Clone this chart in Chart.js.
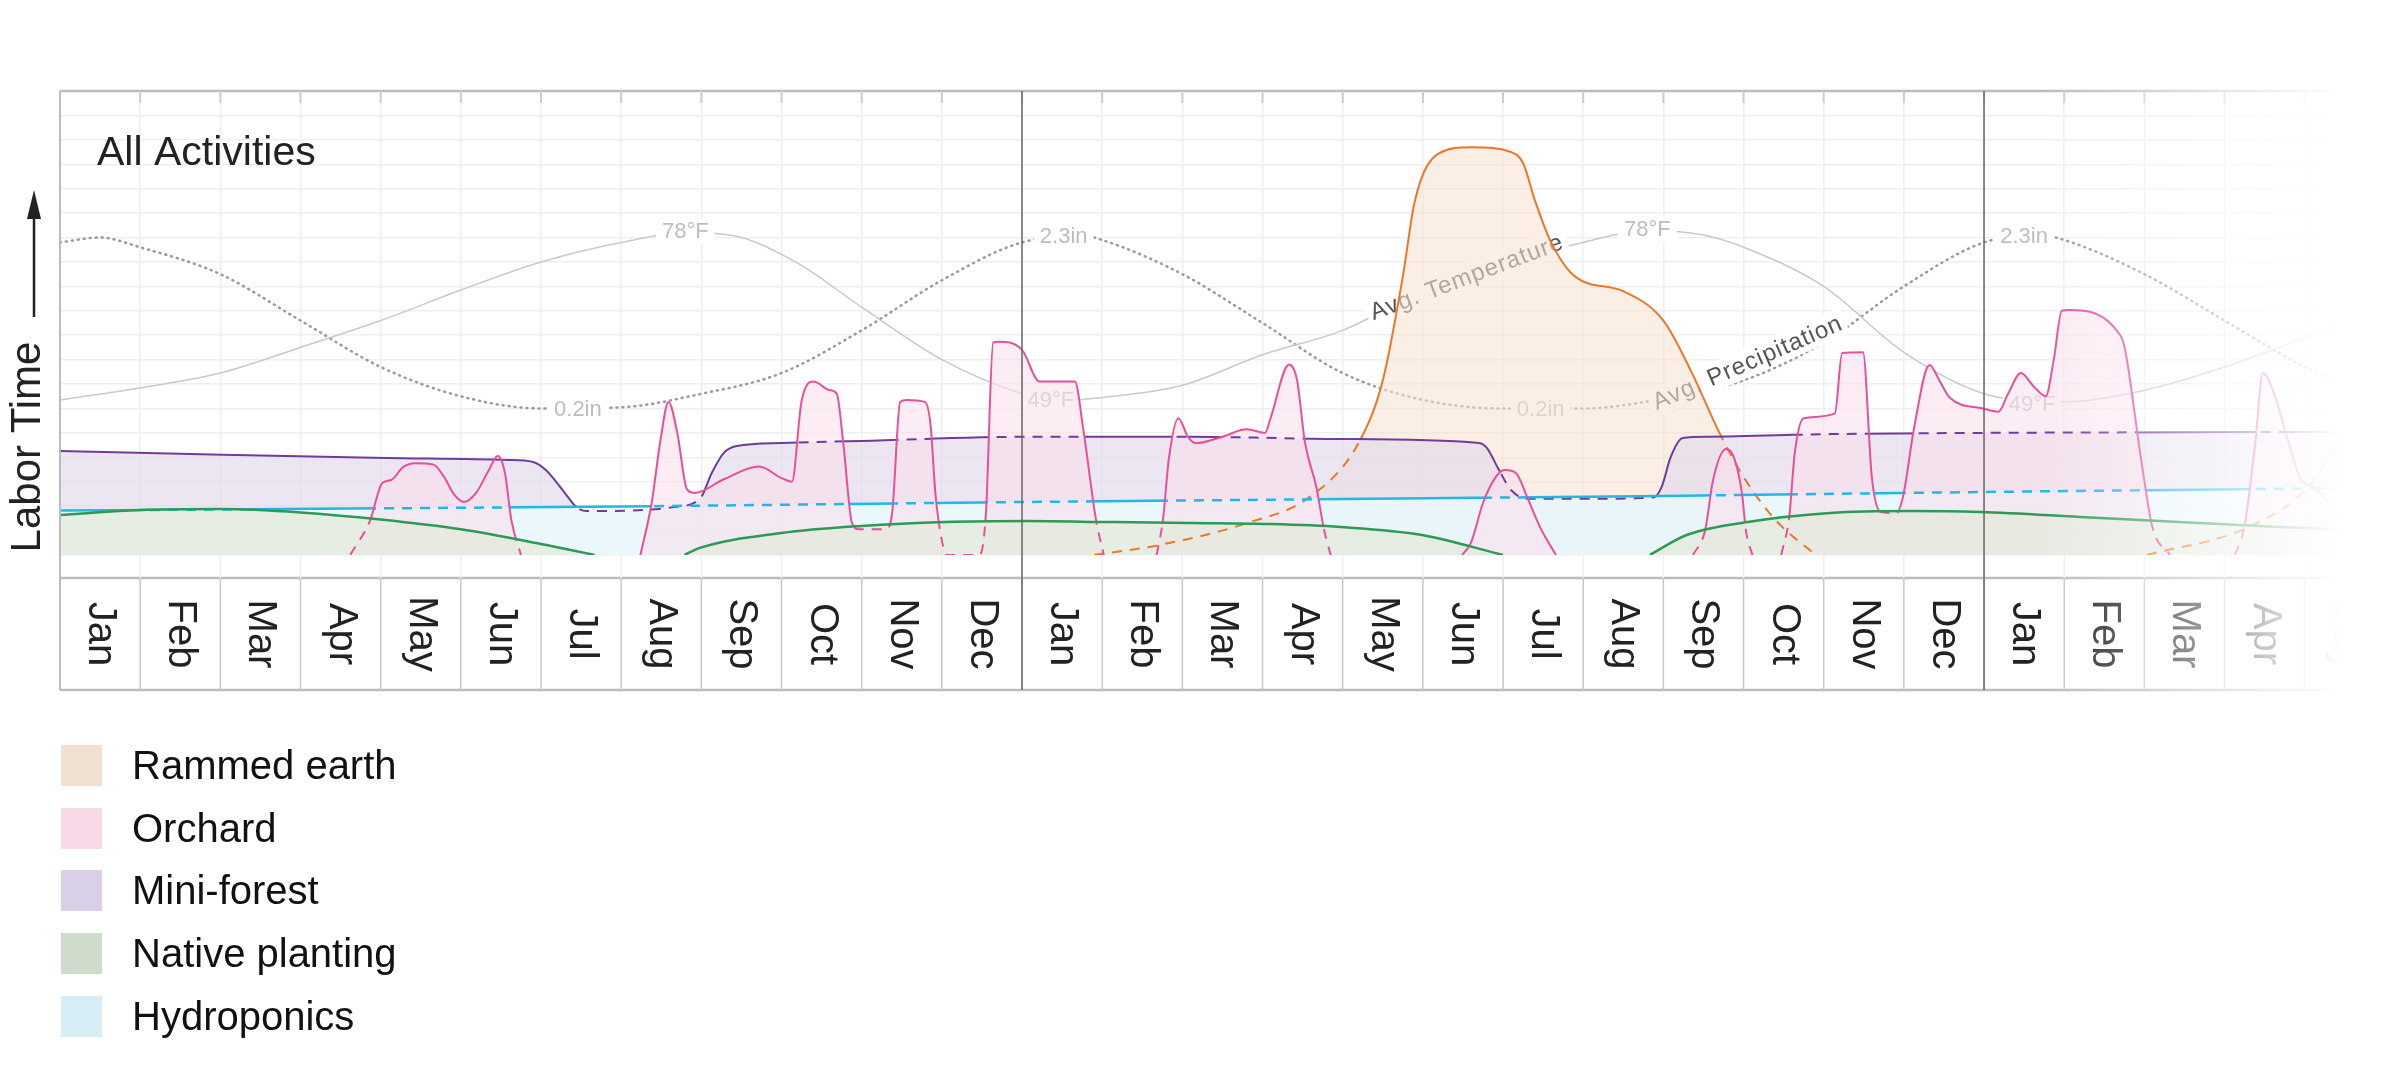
<!DOCTYPE html>
<html>
<head>
<meta charset="utf-8">
<title>All Activities</title>
<script src="https://cdn.jsdelivr.net/npm/chart.js@4.4.1/dist/chart.umd.min.js"></script>
<style>
  html, body { margin: 0; padding: 0; background: #fff; }
  #wrap { position: relative; width: 2400px; height: 1078px; overflow: hidden; }
  #chart { position: absolute; left: 0; top: 0; }
  #legend { position: absolute; left: 61px; top: 745px; font-family: "Liberation Sans", Arial, sans-serif; font-size: 40px; color: #111; }
  .row { display: flex; align-items: center; height: 41px; margin-bottom: 21.7px; }
  .sw { width: 41px; height: 41px; margin-right: 30px; }
</style>
</head>
<body>
<div id="wrap">
  <canvas id="chart" width="2400" height="1078"></canvas>
  <div id="legend"></div>
</div>
<script>
// months along the bottom (0 = start of the first January)
const monthNames = ['Jan', 'Feb', 'Mar', 'Apr', 'May', 'Jun', 'Jul', 'Aug', 'Sep', 'Oct', 'Nov', 'Dec'];
const monthCount = 29;
const xMax = 28.565;
const yearStarts = [12, 24];

// [month, labour time] pairs, null = no activity
const rammedEarth = [[12.9,0],[13.7,0.4],[14.8,1.3],[15.6,2.4],[16.2,4.6],[16.5,7.15],[16.75,11.4],[16.9,14.5],[17.2,16.45],[17.6,16.7],[18.1,16.5],[18.25,16.05],[18.4,14.5],[18.6,12.8],[18.9,11.4],[19.5,10.8],[20.0,9.6],[20.35,7.5],[20.7,5.0],[21.0,3.2],[21.4,1.43],[21.9,0],[24,null],[26.03,0],[27.3,1.15],[28.07,2.9],[28.56,5.6]];

const orchard = [
  [3.62,0],[3.87,1.43],[4.02,2.95],[4.13,3.07],[4.28,3.6],[4.43,3.76],[4.66,3.7],[4.79,3.2],[4.92,2.46],[5.04,2.17],[5.19,2.54],[5.35,3.48],[5.46,4.05],[5.55,3.36],[5.63,1.43],[5.75,0],
  [6.5,null],
  [7.24,0],[7.38,2.13],[7.49,4.7],[7.59,6.27],[7.7,5.0],[7.82,2.7],[7.92,2.54],[8.28,3.1],[8.72,3.62],[9.0,3.15],[9.13,3.0],[9.25,6.3],[9.4,7.1],[9.6,6.75],[9.69,6.6],[9.77,4.6],[9.88,1.3],[9.97,1.05],[10.3,1.05],[10.38,1.72],[10.48,6.27],[10.56,6.35],[10.79,6.27],[10.86,5.3],[10.92,2.5],[11.0,0.6],[11.06,0],[11.47,0],[11.55,1.72],[11.64,8.7],[11.71,8.73],[12.0,8.4],[12.22,7.1],[12.66,7.1],[12.76,5.25],[12.92,1.5],[13.02,0],
  [13.3,null],
  [13.68,0],[13.76,1.5],[13.83,3.9],[13.95,5.6],[14.07,4.84],[14.17,4.58],[14.5,4.84],[14.8,5.15],[15.03,5.0],[15.1,5.6],[15.33,7.8],[15.43,7.17],[15.53,4.6],[15.67,2.8],[15.77,1.0],[15.85,0],
  [16.5,null],
  [17.49,0],[17.6,0.5],[17.75,2.13],[17.9,3.15],[18.02,3.48],[18.16,3.36],[18.3,2.38],[18.46,1.15],[18.66,0],
  [19.5,null],
  [20.37,0],[20.52,1.0],[20.62,3.07],[20.78,4.34],[20.88,4.0],[20.98,2.54],[21.03,1.0],[21.11,0],
  [21.3,null],
  [21.47,0],[21.57,1.56],[21.64,4.2],[21.75,5.6],[22.14,5.8],[22.23,8.27],[22.49,8.3],[22.6,3.2],[22.71,1.76],[22.91,1.72],[22.99,2.4],[23.13,5.25],[23.32,7.78],[23.44,7.17],[23.57,6.45],[23.99,6.0],[24.18,5.87],[24.3,6.6],[24.46,7.45],[24.62,6.9],[24.77,6.5],[24.87,8.0],[24.97,10.0],[25.06,10.03],[25.7,9.0],[25.76,8.4],[25.96,3.9],[26.1,1.15],[26.32,0],
  [26.7,null],
  [27.13,0],[27.25,1.2],[27.38,4.5],[27.48,7.45],[27.62,6.6],[27.8,4.6],[27.95,3.1],[28.1,2.8],[28.56,1.2]
];

const miniForest = [[0,4.26],[2.03,4.1],[4.07,3.97],[5.6,3.89],[5.9,3.81],[6.06,3.48],[6.27,2.66],[6.44,1.97],[6.57,1.8],[7.12,1.82],[7.63,1.95],[7.98,2.29],[8.13,3.36],[8.28,4.18],[8.44,4.46],[9.0,4.59],[10.0,4.67],[12.06,4.84],[14.1,4.84],[15.97,4.75],[17.7,4.59],[17.8,4.38],[17.95,3.48],[18.1,2.66],[18.31,2.3],[19.02,2.3],[19.88,2.36],[19.98,2.8],[20.09,4.0],[20.24,4.79],[20.55,4.84],[22.08,4.95],[23.95,5.0],[28.56,5.04]];

const nativePlanting = [
  [0,1.64],[1,1.84],[2,1.88],[3,1.74],[4,1.45],[5,1.05],[6,0.45],[6.67,0],
  [7.2,null],
  [7.79,0],[7.98,0.29],[9.0,0.9],[10.0,1.19],[11.04,1.35],[12.06,1.39],[13.07,1.35],[14.1,1.31],[15.1,1.27],[15.97,1.15],[16.99,0.82],[18.0,0],
  [19,null],
  [19.83,0],[20.29,0.82],[21.05,1.35],[22.08,1.72],[23.09,1.8],[23.95,1.76],[25.2,1.56],[26.44,1.35],[27.69,1.15],[28.56,1.02]
];

const hydroponics = [[0,1.82],[3.6,1.9],[7.4,2.0],[12,2.17],[16,2.29],[20,2.42],[24,2.58],[28.56,2.74]];

// weather curves, drawn on the same scale
const temperature = [[0,6.35],[1,6.84],[2,7.45],[3,8.5],[4,9.6],[5,10.85],[6,12.0],[7,12.8],[7.8,13.2],[8.5,13.0],[9.2,11.95],[10,10.15],[11,8.0],[12,6.6],[12.4,6.3],[13,6.45],[14,6.95],[15,8.2],[16,9.2],[17,10.8],[18,11.95],[19,12.8],[19.8,13.3],[20.5,13.1],[21,12.6],[22,11.0],[23,8.3],[24,6.6],[24.6,6.3],[25,6.27],[26,6.75],[27,7.7],[28,8.9],[28.56,9.6]];
const precipitation = [[0,12.8],[0.5,13.0],[1,12.6],[2,11.5],[3,9.6],[4,7.7],[5,6.5],[6,6.0],[7,6.05],[8,6.6],[9,7.45],[10,9.2],[11,11.25],[12,12.8],[12.8,13.05],[13,12.9],[14,11.5],[15,9.5],[16,7.45],[17,6.35],[18,6.0],[19,6.0],[20,6.4],[21,7.15],[22,8.7],[23,11.0],[24,12.8],[24.7,13.1],[25,12.9],[26,11.5],[27,9.6],[28,7.7],[28.56,6.9]];

const tempMarks = [[7.8,13.25,'78°F'],[12.36,6.35,'49°F'],[19.8,13.35,'78°F'],[24.6,6.2,'49°F']];
const precipMarks = [[6.46,6.0,'0.2in'],[12.52,13.05,'2.3in'],[18.47,6.0,'0.2in'],[24.5,13.05,'2.3in']];
const curveTitles = [['Avg. Temperature',16.35,9.9,18.77,12.9],['Avg. Precipitation',19.88,6.22,22.27,9.62]];

const pts = arr => arr.map(([x, y]) => ({ x, y }));

// index 0 is drawn last (on top); "front" = datasets that hide this line (dashed there)
function activity(label, data, fill, line, swatch, width, front) {
  return {
    label, data: pts(data), fill: 'origin', backgroundColor: fill,
    borderWidth: 0, borderColor: line, lineColor: line, lineW: width, swatch, front,
    pointRadius: 0, cubicInterpolationMode: 'monotone', spanGaps: false
  };
}

const datasets = [
  activity('Native planting', nativePlanting, 'rgba(228,234,219,0.75)', '#2e9a55', '#d0dccb', 2.5, []),
  activity('Orchard', orchard, 'rgba(250,223,237,0.6)', '#e5509b', '#f8d9e8', 2, [0]),
  activity('Hydroponics', hydroponics, 'rgba(234,253,255,0.7)', '#22b8e6', '#d8eef6', 2.5, [0, 1]),
  activity('Mini-forest', miniForest, 'rgba(226,219,235,0.7)', '#6f3d98', '#d9d0e7', 2, [0, 1, 2]),
  activity('Rammed earth', rammedEarth, 'rgba(248,226,208,0.58)', '#e8782a', '#efe0d1', 2, [0, 1, 2, 3]),
  { label: 'Avg. Temperature', data: pts(temperature), borderColor: '#c9c9c9', borderWidth: 1.5, pointRadius: 0, cubicInterpolationMode: 'monotone', fill: false },
  { label: 'Avg. Precipitation', data: pts(precipitation), borderColor: '#9a9a9a', borderWidth: 2.5, borderDash: [1, 5], borderCapStyle: 'round', pointRadius: 0, cubicInterpolationMode: 'monotone', fill: false }
];
const legendOrder = [4, 1, 3, 0, 2];

// area under a line element, closed down to the bottom of the plot
function traceArea(ctx, line, bottom) {
  const p = line.points;
  for (const seg of line.segments) {
    const a = p[seg.start], b = p[seg.end];
    ctx.moveTo(a.x, a.y);
    for (let i = seg.start + 1; i <= seg.end; i++) {
      ctx.bezierCurveTo(p[i - 1].cp2x, p[i - 1].cp2y, p[i].cp1x, p[i].cp1y, p[i].x, p[i].y);
    }
    ctx.lineTo(b.x, bottom);
    ctx.lineTo(a.x, bottom);
    ctx.closePath();
  }
}

function strokeLine(ctx, line, ds, dash) {
  ctx.beginPath();
  line.path(ctx);
  ctx.strokeStyle = ds.lineColor;
  ctx.lineWidth = ds.lineW;
  ctx.lineJoin = 'round';
  ctx.setLineDash(dash);
  ctx.stroke();
}

function drawMark(chart, m, v, text) {
  const ctx = chart.ctx;
  const x = chart.scales.x.getPixelForValue(m), y = chart.scales.y.getPixelForValue(v);
  ctx.save();
  ctx.font = '22px "Liberation Sans", Arial, sans-serif';
  const w = ctx.measureText(text).width;
  ctx.fillStyle = '#fff';
  ctx.fillRect(x - w / 2 - 6, y - 13, w + 12, 26);
  ctx.fillStyle = '#bdbdbd';
  ctx.textAlign = 'center';
  ctx.textBaseline = 'middle';
  ctx.fillText(text, x, y + 1);
  ctx.restore();
}

function drawCurveTitle(chart, t) {
  const ctx = chart.ctx, xs = chart.scales.x, ys = chart.scales.y;
  const x0 = xs.getPixelForValue(t[1]), y0 = ys.getPixelForValue(t[2]);
  const x1 = xs.getPixelForValue(t[3]), y1 = ys.getPixelForValue(t[4]);
  ctx.save();
  ctx.translate(x0, y0);
  ctx.rotate(Math.atan2(y1 - y0, x1 - x0));
  ctx.font = '24px "Liberation Sans", Arial, sans-serif';
  ctx.letterSpacing = '1px';
  const w = ctx.measureText(t[0]).width;
  ctx.fillStyle = '#fff';
  ctx.fillRect(-4, -14, w + 8, 28);
  ctx.fillStyle = '#555';
  ctx.textAlign = 'left';
  ctx.textBaseline = 'middle';
  ctx.fillText(t[0], 0, 1);
  ctx.restore();
}

const decor = {
  id: 'decor',
  afterDatasetDraw(chart, args) {
    if (args.index === 5) {
      tempMarks.forEach(m => drawMark(chart, m[0], m[1], m[2]));
      drawCurveTitle(chart, curveTitles[0]);
    }
    if (args.index === 6) {
      precipMarks.forEach(m => drawMark(chart, m[0], m[1], m[2]));
      drawCurveTitle(chart, curveTitles[1]);
    }
  },
  afterDatasetsDraw(chart) {
    // activity lines on top of every fill: solid in the open, dashed where covered
    const ctx = chart.ctx, a = chart.chartArea;
    ctx.save();
    ctx.beginPath();
    ctx.rect(a.left, a.top, a.right - a.left, a.bottom - a.top);
    ctx.clip();
    for (let i = 4; i >= 0; i--) {
      const ds = chart.data.datasets[i];
      const line = chart.getDatasetMeta(i).dataset;
      const fronts = ds.front.map(f => chart.getDatasetMeta(f).dataset);
      ctx.save();
      fronts.forEach(fl => {
        ctx.beginPath();
        ctx.rect(a.left - 10, a.top - 10, a.right - a.left + 20, a.bottom - a.top + 20);
        traceArea(ctx, fl, a.bottom + 10);
        ctx.clip('evenodd');
      });
      strokeLine(ctx, line, ds, []);
      ctx.restore();
      if (fronts.length) {
        ctx.save();
        ctx.beginPath();
        fronts.forEach(fl => traceArea(ctx, fl, a.bottom + 10));
        ctx.clip();
        strokeLine(ctx, line, ds, [10, 8]);
        ctx.restore();
      }
    }
    ctx.restore();
  },
  afterDraw(chart) {
    const ctx = chart.ctx, a = chart.chartArea, xs = chart.scales.x;
    const boxTop = 578, boxBottom = 690;
    ctx.save();
    // frame
    ctx.strokeStyle = '#bcbcbc';
    ctx.lineWidth = 2.5;
    ctx.beginPath();
    ctx.moveTo(a.left, a.top); ctx.lineTo(2400, a.top);
    ctx.moveTo(a.left, boxTop); ctx.lineTo(2400, boxTop);
    ctx.moveTo(a.left, boxBottom); ctx.lineTo(2400, boxBottom);
    ctx.stroke();
    ctx.lineWidth = 2;
    ctx.beginPath();
    ctx.moveTo(a.left, a.top); ctx.lineTo(a.left, boxBottom);
    ctx.stroke();
    // month ticks and box separators
    for (let i = 1; i < monthCount; i++) {
      const x = xs.getPixelForValue(i);
      ctx.strokeStyle = '#cdcdcd';
      ctx.lineWidth = 2;
      ctx.beginPath();
      ctx.moveTo(x, a.top); ctx.lineTo(x, a.top + 12);
      ctx.stroke();
      ctx.strokeStyle = '#efefef';
      ctx.lineWidth = 1.5;
      ctx.beginPath();
      ctx.moveTo(x, a.bottom); ctx.lineTo(x, boxTop);
      ctx.stroke();
      ctx.strokeStyle = '#c8c8c8';
      ctx.beginPath();
      ctx.moveTo(x, boxTop); ctx.lineTo(x, boxBottom);
      ctx.stroke();
    }
    ctx.strokeStyle = '#666';
    ctx.lineWidth = 1.5;
    yearStarts.forEach(m => {
      const x = xs.getPixelForValue(m);
      ctx.beginPath();
      ctx.moveTo(x, a.top); ctx.lineTo(x, boxBottom);
      ctx.stroke();
    });
    // month labels, rotated clockwise
    ctx.font = '40px "Liberation Sans", Arial, sans-serif';
    ctx.fillStyle = '#222';
    ctx.textAlign = 'center';
    ctx.textBaseline = 'middle';
    for (let i = 0; i < monthCount; i++) {
      ctx.save();
      ctx.translate(xs.getPixelForValue(i + 0.5), (boxTop + boxBottom) / 2);
      ctx.rotate(Math.PI / 2);
      ctx.fillText(monthNames[i % 12], 0, 0);
      ctx.restore();
    }
    // fade out on the right
    const f0 = xs.getPixelForValue(24.7), f1 = xs.getPixelForValue(28.45);
    const g = ctx.createLinearGradient(f0, 0, f1, 0);
    g.addColorStop(0, 'rgba(255,255,255,0)');
    g.addColorStop(1, 'rgba(255,255,255,1)');
    ctx.fillStyle = g;
    ctx.fillRect(f0, a.top - 10, 2400 - f0, boxBottom - a.top + 20);
    // titles
    ctx.fillStyle = '#222';
    ctx.textAlign = 'left';
    ctx.textBaseline = 'alphabetic';
    ctx.font = '41px "Liberation Sans", Arial, sans-serif';
    ctx.fillText('All Activities', 97, 165);
    ctx.save();
    ctx.translate(28, 447);
    ctx.rotate(-Math.PI / 2);
    ctx.textAlign = 'center';
    ctx.textBaseline = 'middle';
    ctx.font = '42px "Liberation Sans", Arial, sans-serif';
    ctx.fillText('Labor Time', 0, 0);
    ctx.restore();
    ctx.strokeStyle = '#222';
    ctx.lineWidth = 2.5;
    ctx.beginPath();
    ctx.moveTo(34, 317); ctx.lineTo(34, 210);
    ctx.stroke();
    ctx.beginPath();
    ctx.moveTo(34, 190); ctx.lineTo(27, 219); ctx.lineTo(41, 219); ctx.closePath();
    ctx.fill();
    ctx.restore();
  }
};

new Chart(document.getElementById('chart').getContext('2d'), {
  type: 'line',
  data: { datasets },
  options: {
    responsive: false,
    animation: false,
    devicePixelRatio: 1,
    events: [],
    layout: { padding: { left: 60, top: 91, right: 50, bottom: 523 } },
    plugins: { legend: { display: false }, tooltip: { enabled: false } },
    scales: {
      x: {
        type: 'linear', min: 0, max: xMax,
        ticks: { display: false, stepSize: 1, includeBounds: false },
        grid: { color: '#efefef', lineWidth: 1.5, drawTicks: false },
        border: { display: false },
        afterFit: s => { s.height = 0; }
      },
      y: {
        type: 'linear', min: 0, max: 19,
        ticks: { display: false, stepSize: 1 },
        grid: { color: '#efefef', lineWidth: 1.5, drawTicks: false },
        border: { display: false },
        afterFit: s => { s.width = 0; }
      }
    }
  },
  plugins: [decor]
});

// legend under the chart
const legendEl = document.getElementById('legend');
legendOrder.forEach(i => {
  const ds = datasets[i];
  const row = document.createElement('div');
  row.className = 'row';
  const sw = document.createElement('div');
  sw.className = 'sw';
  sw.style.background = ds.swatch;
  const txt = document.createElement('span');
  txt.textContent = ds.label;
  row.appendChild(sw);
  row.appendChild(txt);
  legendEl.appendChild(row);
});
</script>
</body>
</html>
